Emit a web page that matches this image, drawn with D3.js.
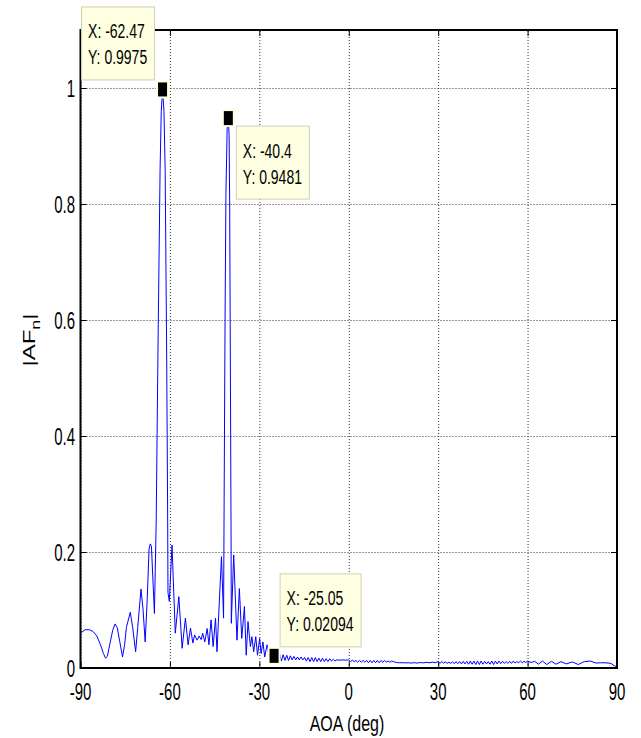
<!DOCTYPE html>
<html><head><meta charset="utf-8">
<script src="https://cdn.jsdelivr.net/npm/d3@7"></script>
<style>
body{margin:0;background:#fff}
svg{display:block}
text{font-family:"Liberation Sans",Arial,Helvetica,sans-serif;fill:#000}
</style>
</head><body>
<svg id="chart" width="641" height="738"></svg>
<script>
// ---- data: [AOA (deg), |AF_n|] ----
const sidelobesLeft = [[-90,0.060],[-89.5,0.062],[-88.5,0.066],[-87,0.066],[-85.8,0.063],[-84.5,0.055],[-83.3,0.040],[-82.3,0.025],[-81.6,0.017],[-81.0,0.020],
  [-80.2,0.040],[-79.2,0.065],[-78.4,0.076],[-77.7,0.070],[-76.8,0.045],[-75.9,0.019],[-75.2,0.040],[-74.6,0.070],[-73.3,0.096],[-72.5,0.070],
  [-71.5,0.028],[-70.8,0.070],[-69.7,0.136],[-69.0,0.100],[-68.3,0.045],[-67.6,0.120],[-67.0,0.205],[-66.6,0.214],[-66.2,0.210],[-65.6,0.140],[-65.2,0.094]];
const beam1 = [[-64.6,0.255],[-64.0,0.55],[-63.3,0.86],[-62.9,0.96],[-62.47,0.9975],[-62.0,0.96],[-61.6,0.86],[-61.1,0.55],[-60.75,0.255],[-60.65,0.13]];
const sidelobesMid = [[-60.2,0.115],[-59.3,0.212],[-58.2,0.060],[-57.0,0.123],[-55.9,0.034],[-54.8,0.086],[-53.9,0.040],[-53.1,0.069],[-52.3,0.043],[-51.7,0.057],
  [-50.9,0.048],[-50.2,0.055],[-49.5,0.049],[-49.0,0.060],[-48.3,0.045],[-47.5,0.068],[-46.9,0.040],[-46.2,0.083],[-45.5,0.037],[-44.7,0.086],
  [-44.2,0.028],[-43.4,0.117],[-42.7,0.192],[-42.0,0.086]];
const beam2 = [[-41.8,0.30],[-41.5,0.60],[-41.2,0.82],[-40.8,0.93],[-40.4,0.9481],[-40.15,0.92],[-39.95,0.80],[-39.7,0.50],[-39.5,0.25],[-39.4,0.077]];
const sidelobesRight = [[-38.6,0.195],[-37.5,0.048],[-36.7,0.137],[-35.9,0.051],[-35.0,0.106],[-34.4,0.022],[-33.8,0.080],[-33.0,0.037],[-32.5,0.054],[-31.9,0.028],
  [-31.2,0.054],[-30.6,0.022],[-29.9,0.051],[-29.4,0.025],[-28.8,0.045],[-28.2,0.019],[-27.4,0.040],[-26.6,0.018],[-26.0,0.032],[-25.05,0.02094]];
const tailNear = [[-24.4,0.027],[-23.8,0.012],[-23.2,0.025],[-22.6,0.012],[-22.0,0.023],[-21.4,0.013],[-20.8,0.022],[-20.2,0.013],[-19.6,0.021],[-19.0,0.014],
  [-18.4,0.020],[-17.8,0.014],[-17.2,0.019],[-16.6,0.014],[-16.0,0.019],[-15.4,0.014],[-14.8,0.018],[-14.2,0.012],[-13.6,0.018],[-13.0,0.011],
  [-12.4,0.018],[-11.8,0.011],[-11.2,0.018],[-10.6,0.011],[-10.0,0.017],[-9.4,0.011],[-8.8,0.017],[-8.2,0.011],[-7.6,0.016],[-7.0,0.011],
  [-6.4,0.016],[-5.8,0.012],[-5.2,0.015],[-4.6,0.012],[-4.0,0.014],[-3.0,0.0135],[-2.0,0.014],[-1.0,0.0135],[0,0.014]];
const tailMid = [[0.6,0.011],[1.2,0.0135],[1.8,0.011],[2.4,0.013],[3.0,0.010],[3.6,0.013],[4.2,0.010],[4.8,0.013],[5.4,0.010],[6.0,0.013],
  [6.6,0.009],[7.2,0.013],[7.8,0.009],[8.4,0.013],[9.0,0.009],[9.6,0.013],[10.2,0.009],[10.8,0.013],[11.4,0.010],[12.0,0.013],
  [12.6,0.010],[13.2,0.012],[13.8,0.010],[14.4,0.012],[15.0,0.011],[16,0.0095],[17,0.009],[18,0.0092],[19,0.0088],[20,0.009],
  [21,0.0085],[22,0.0092],[23,0.0085],[24,0.0095],[25,0.0088],[26,0.0098],[27,0.009],[28,0.010],[29,0.0092],[30,0.011]];
const tailFar = [[30.6,0.008],[31.2,0.011],[31.8,0.0085],[32.4,0.0105],[33.0,0.008],[33.6,0.010],[34.2,0.008],[34.8,0.0105],[35.4,0.0075],[36.0,0.011],
  [36.6,0.0075],[37.2,0.011],[37.8,0.007],[38.4,0.0115],[39.0,0.007],[39.6,0.0115],[40.2,0.0065],[40.8,0.012],[41.4,0.0065],[42.0,0.012],
  [42.6,0.006],[43.2,0.012],[43.8,0.006],[44.4,0.012],[45.0,0.0065],[45.6,0.0115],[46.2,0.007],[46.8,0.011],[47.4,0.0065],[48.0,0.012],
  [48.6,0.006],[49.2,0.012],[49.8,0.007],[50.4,0.012],[51.0,0.0075],[51.6,0.0115],[52.2,0.008],[52.8,0.011],[53.4,0.008],[54.0,0.0115],
  [54.6,0.008],[55.2,0.012],[55.8,0.0085],[56.4,0.011],[57.0,0.009],[57.6,0.012],[58.2,0.009],[58.8,0.0115],[59.4,0.0095],[60.0,0.012],
  [61.2,0.0095],[62.4,0.0115],[63.6,0.0065],[65.0,0.012],[66.4,0.006],[68.0,0.0115],[69.6,0.0065],[71.2,0.011],[73.0,0.007],[75.0,0.0105],
  [77.0,0.006],[79.0,0.011],[81.0,0.012],[83.0,0.0085],[84.5,0.009],[86.0,0.009],[88.0,0.008],[89.0,0.004],[90.0,0.002]];

const xTicks = [-90, -60, -30, 0, 30, 60, 90];
const yTicks = [0, 0.2, 0.4, 0.6, 0.8, 1];
const tipX = [-62.47, -40.4, -25.05];
const tipY = [0.9975, 0.9481, 0.02094];
const tipSide = ["upleft", "downright", "upright"];
const xTitle = "AOA (deg)";

const curve = [].concat(sidelobesLeft, beam1, sidelobesMid, beam2, sidelobesRight, tailNear, tailMid, tailFar);

// ---- layout ----
const L = 80.5, R = 617, T = 30, B = 668;
const svg = d3.select("#chart");
svg.append("rect").attr("width", 641).attr("height", 738).attr("fill", "#fff");

const x = d3.scaleLinear().domain([-90, 90]).range([L, R]);
const y = d3.scaleLinear().domain([0, 1.1]).range([B, T]);

// grid
svg.append("g").attr("transform", `translate(0,${B})`)
  .call(d3.axisBottom(x).tickValues(xTicks).tickSize(-(B - T)).tickFormat(""))
  .call(g => g.select(".domain").remove())
  .selectAll("line").attr("stroke", "#333").attr("stroke-width", 1).attr("stroke-dasharray", "1,2");
svg.append("g").attr("transform", `translate(${L},0)`)
  .call(d3.axisLeft(y).tickValues(yTicks).tickSize(-(R - L)).tickFormat(""))
  .call(g => g.select(".domain").remove())
  .selectAll("line").attr("stroke", "#333").attr("stroke-width", 1).attr("stroke-dasharray", "1,2");

// curve
svg.append("clipPath").attr("id", "clip").append("rect").attr("x", L).attr("y", T).attr("width", R - L).attr("height", B - T);
svg.append("path").datum(curve)
  .attr("clip-path", "url(#clip)")
  .attr("fill", "none").attr("stroke", "#0000ff").attr("stroke-width", 1)
  .attr("stroke-linejoin", "round")
  .attr("d", d3.line().x(d => x(d[0])).y(d => y(d[1])));

// inward ticks
function ticks(axis, tx, ty) {
  svg.append("g").attr("transform", `translate(${tx},${ty})`)
    .call(axis.tickSize(-6).tickFormat(""))
    .call(g => g.select(".domain").remove())
    .selectAll("line").attr("stroke", "#000");
}
ticks(d3.axisBottom(x).tickValues(xTicks), 0, B);
ticks(d3.axisTop(x).tickValues(xTicks), 0, T);
ticks(d3.axisLeft(y).tickValues(yTicks), L, 0);
ticks(d3.axisRight(y).tickValues(yTicks), R, 0);

// axes box
svg.append("rect").attr("x", L).attr("y", T).attr("width", R - L).attr("height", B - T)
  .attr("fill", "none").attr("stroke", "#000").attr("stroke-width", 2);

// tick labels (stretched vertically as in the reference)
const SY = 1.6;
svg.append("g").selectAll("text").data(xTicks).join("text")
  .attr("transform", d => `translate(${x(d)},700) scale(1,${SY})`)
  .attr("text-anchor", "middle").attr("font-size", 15).text(d => d);
svg.append("g").selectAll("text").data(yTicks).join("text")
  .attr("transform", d => `translate(75,${y(d) + 8.5}) scale(1,${SY})`)
  .attr("text-anchor", "end").attr("font-size", 15).text(d => d);

// axis titles
svg.append("text").attr("transform", `translate(347,731) scale(1,1.35)`)
  .attr("text-anchor", "middle").attr("font-size", 16).text(xTitle);
const yl = svg.append("text").attr("transform", `translate(35,340) rotate(-90) scale(1.5,1)`)
  .attr("text-anchor", "middle").attr("font-size", 16);
yl.append("tspan").text("|AF");
yl.append("tspan").attr("font-size", 12).attr("dy", 5).text("n");
yl.append("tspan").attr("dy", -5).text("|");

// data tips
const BH = 73;
tipX.forEach((tx, i) => {
  const mx = x(tx), my = y(tipY[i]);
  const g = svg.append("g");
  const box = g.append("rect").attr("fill", "#ffffe1").attr("stroke", "#cfcfb8").attr("stroke-width", 1);
  const t1 = g.append("text").attr("font-size", 14).text(`X: ${tx}`);
  const t2 = g.append("text").attr("font-size", 14).text(`Y: ${tipY[i]}`);
  const tw = Math.max(t1.node().getComputedTextLength(), t2.node().getComputedTextLength());
  const bw = Math.round(tw + 14);
  let bx, by;
  if (tipSide[i] === "upleft") { bx = mx - 8 - bw; by = my - 9.5 - BH; }
  else if (tipSide[i] === "downright") { bx = mx + 8; by = my + 8; }
  else { bx = mx + 6; by = my - 9 - BH; }
  box.attr("x", bx).attr("y", by).attr("width", bw).attr("height", BH);
  t1.attr("transform", `translate(${bx + 6.5},${by + 31.5}) scale(1,1.4)`);
  t2.attr("transform", `translate(${bx + 6.5},${by + 57.5}) scale(1,1.4)`);
  g.append("rect").attr("x", mx - 6.5).attr("y", my - 9).attr("width", 13).attr("height", 18).attr("fill", "#ffffe1");
  g.append("rect").attr("x", mx - 4.5).attr("y", my - 7).attr("width", 9).attr("height", 14).attr("fill", "#000");
});
</script>
</body></html>
